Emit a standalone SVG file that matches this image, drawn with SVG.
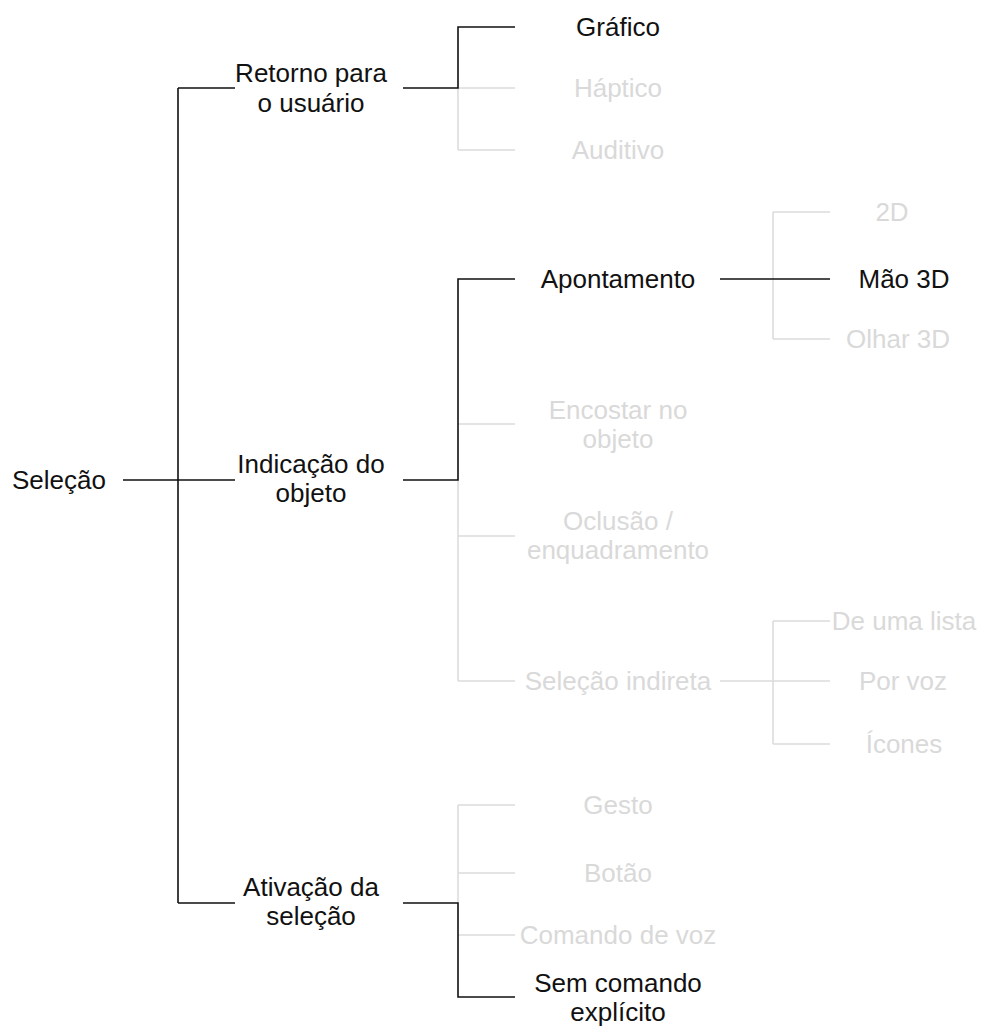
<svg xmlns="http://www.w3.org/2000/svg" width="982" height="1026" viewBox="0 0 982 1026">
<style>
text{font-family:"Liberation Sans",Arial,sans-serif;font-size:26px;text-anchor:middle}
.b{fill:#111}
.g{fill:#d9d9d9}
.lb{stroke:#111;stroke-width:1.6;fill:none}
.lg{stroke:#dcdcdc;stroke-width:1.6;fill:none}
</style>
<rect width="982" height="1026" fill="#fff"/>
<g id="connectors">
<g class="lg">
<path d="M458 88V150M458 88H515M458 150H515"/>
<path d="M458 480V681M458 424H515M458 536H515M458 681H515"/>
<path d="M773 212V339M773 212H830M773 339H830"/>
<path d="M720 681H830M773 621V744M773 621H830M773 744H830"/>
<path d="M458 805V903M458 805H515M458 873H515M458 935H515"/>
</g>
<g class="lb">
<path d="M123 480H235M178 88V903M178 88H235M178 903H235"/>
<path d="M403 88H458V27H515"/>
<path d="M403 480H458V279H515"/>
<path d="M720 279H830"/>
<path d="M403 903H458V997H515"/>
</g>
</g>
<g id="n-selecao"><text class="b" x="59" y="489">Seleção</text></g>
<g id="n-retorno"><text class="b" x="311" y="82">Retorno para</text><text class="b" x="311" y="112">o usuário</text></g>
<g id="n-indicacao"><text class="b" x="311" y="473">Indicação do</text><text class="b" x="311" y="502">objeto</text></g>
<g id="n-ativacao"><text class="b" x="311" y="896">Ativação da</text><text class="b" x="311" y="925">seleção</text></g>
<g id="n-grafico"><text class="b" x="618" y="36">Gráfico</text></g>
<g id="n-haptico"><text class="g" x="618" y="97">Háptico</text></g>
<g id="n-auditivo"><text class="g" x="618" y="159">Auditivo</text></g>
<g id="n-apontamento"><text class="b" x="618" y="288">Apontamento</text></g>
<g id="n-encostar"><text class="g" x="618" y="419">Encostar no</text><text class="g" x="618" y="448">objeto</text></g>
<g id="n-oclusao"><text class="g" x="618" y="530">Oclusão /</text><text class="g" x="618" y="559">enquadramento</text></g>
<g id="n-indireta"><text class="g" x="618" y="690">Seleção indireta</text></g>
<g id="n-gesto"><text class="g" x="618" y="814">Gesto</text></g>
<g id="n-botao"><text class="g" x="618" y="882">Botão</text></g>
<g id="n-comando"><text class="g" x="618" y="944">Comando de voz</text></g>
<g id="n-sem"><text class="b" x="618" y="992">Sem comando</text><text class="b" x="618" y="1021">explícito</text></g>
<g id="n-2d"><text class="g" x="892" y="221">2D</text></g>
<g id="n-mao"><text class="b" x="904" y="288">Mão 3D</text></g>
<g id="n-olhar"><text class="g" x="898" y="348">Olhar 3D</text></g>
<g id="n-lista"><text class="g" x="904" y="630">De uma lista</text></g>
<g id="n-voz"><text class="g" x="903" y="690">Por voz</text></g>
<g id="n-icones"><text class="g" x="904" y="753">Ícones</text></g>
</svg>
